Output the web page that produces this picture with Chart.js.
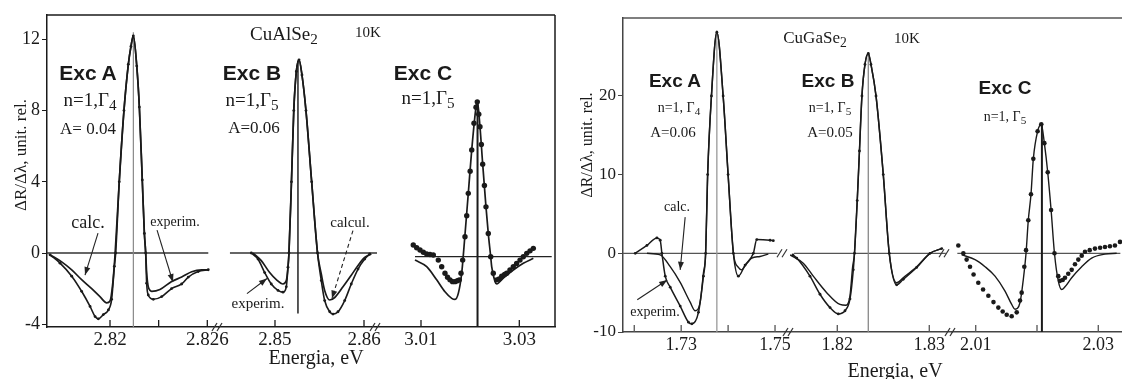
<!DOCTYPE html>
<html>
<head>
<meta charset="utf-8">
<script src="https://cdn.jsdelivr.net/npm/chart.js@4.4.0/dist/chart.umd.min.js"></script>
<style>
html, body { margin: 0; padding: 0; background: #fff; }
#stage { position: relative; width: 1122px; height: 379px; overflow: hidden; font-family: "Liberation Serif", "Times New Roman", serif; color: #1a1a1a; }
#stage canvas { position: absolute; top: 0; }
.t { position: absolute; transform: translate(-50%, -50%); white-space: nowrap; line-height: 1; }
.exc { font-family: "Liberation Sans", Arial, sans-serif; font-weight: bold; }
.yt { transform: translate(-50%, -50%) rotate(-90deg); }
sub { font-size: 0.8em; vertical-align: -0.3em; line-height: 0; }
</style>
</head>
<body>
<div id="stage">
  <!-- CuAlSe2 -->
  <div class="t" style="left:284px;top:33px;font-size:19px">CuAlSe<sub>2</sub></div>
  <div class="t" style="left:368px;top:32px;font-size:15px">10K</div>
  <div class="t exc" style="left:88px;top:72px;font-size:21px">Exc A</div>
  <div class="t" style="left:90px;top:99px;font-size:19px">n=1,Γ<sub>4</sub></div>
  <div class="t" style="left:88px;top:128px;font-size:17px">A= 0.04</div>
  <div class="t exc" style="left:252px;top:72px;font-size:21px">Exc B</div>
  <div class="t" style="left:252px;top:99px;font-size:19px">n=1,Γ<sub>5</sub></div>
  <div class="t" style="left:254px;top:127px;font-size:17px">A=0.06</div>
  <div class="t exc" style="left:423px;top:72px;font-size:21px">Exc C</div>
  <div class="t" style="left:428px;top:97px;font-size:19px">n=1,Γ<sub>5</sub></div>
  <div class="t" style="left:88px;top:222px;font-size:18px">calc.</div>
  <div class="t" style="left:175px;top:222px;font-size:14px">experim.</div>
  <div class="t" style="left:350px;top:222px;font-size:15px">calcul.</div>
  <div class="t" style="left:258px;top:303px;font-size:15px">experim.</div>
  <div class="t" style="left:316px;top:357px;font-size:20px">Energia, eV</div>
  <div class="t yt" style="left:20px;top:155px;font-size:17px">ΔR/Δλ, unit. rel.</div>
  <!-- CuGaSe2 -->
  <div class="t" style="left:815px;top:37px;font-size:17px">CuGaSe<sub>2</sub></div>
  <div class="t" style="left:907px;top:38px;font-size:15px">10K</div>
  <div class="t exc" style="left:675px;top:80px;font-size:19px">Exc A</div>
  <div class="t" style="left:679px;top:108px;font-size:14px">n=1, Γ<sub>4</sub></div>
  <div class="t" style="left:673px;top:132px;font-size:15px">A=0.06</div>
  <div class="t exc" style="left:828px;top:80px;font-size:19px">Exc B</div>
  <div class="t" style="left:830px;top:108px;font-size:14px">n=1, Γ<sub>5</sub></div>
  <div class="t" style="left:830px;top:132px;font-size:15px">A=0.05</div>
  <div class="t exc" style="left:1005px;top:87px;font-size:19px">Exc C</div>
  <div class="t" style="left:1005px;top:117px;font-size:14px">n=1, Γ<sub>5</sub></div>
  <div class="t" style="left:677px;top:207px;font-size:14px">calc.</div>
  <div class="t" style="left:655px;top:312px;font-size:14px">experim.</div>
  <div class="t" style="left:895px;top:370px;font-size:20px">Energia, eV</div>
  <div class="t yt" style="left:587px;top:145px;font-size:16px">ΔR/Δλ, unit. rel.</div>
</div>
<script>
// ---- CuAlSe2, exciton A (energy eV / dR/dl) ----
const alA_calcE = [2.81630, 2.81702, 2.81764, 2.81825, 2.81887, 2.81938, 2.81980, 2.82000, 2.82017, 2.82031, 2.82057, 2.82086, 2.82113, 2.82129, 2.82144, 2.82165, 2.82181, 2.82199, 2.82212, 2.82220, 2.82226, 2.82236, 2.82257, 2.82308, 2.82380, 2.82442, 2.82504, 2.82565, 2.82606];
const alA_calcR = [-0.1, -0.5, -0.95, -1.5, -2.0, -2.45, -2.8, -2.7, -1.7, -0.1, 4.0, 8.0, 10.6, 11.6, 12.2, 10.5, 8.2, 4.1, 1.1, 0, -1.1, -1.9, -2.15, -2.05, -1.6, -1.35, -1.05, -0.95, -0.95];
const alA_expE = [2.81630, 2.81692, 2.81764, 2.81825, 2.81877, 2.81908, 2.81928, 2.81959, 2.81990, 2.82010, 2.82027, 2.82035, 2.82057, 2.82086, 2.82113, 2.82129, 2.82144, 2.82165, 2.82181, 2.82199, 2.82212, 2.82220, 2.82226, 2.82236, 2.82267, 2.82319, 2.82380, 2.82442, 2.82483, 2.82544, 2.82606];
const alA_expR = [-0.1, -0.57, -1.3, -2.15, -3.0, -3.57, -3.7, -3.46, -3.2, -2.6, -0.75, 0, 4.0, 8.0, 10.6, 11.6, 12.2, 10.5, 8.2, 4.1, 1.1, 0, -1.7, -2.36, -2.6, -2.45, -2.0, -1.74, -1.35, -1.04, -0.94];
const alA_ticks = [2.82, 2.823, 2.826];
const alA_tickText = ['2.82', '', '2.826'];

// ---- CuAlSe2, exciton B ----
const alB_calcE = [2.84753, 2.84846, 2.84940, 2.85015, 2.85090, 2.85127, 2.85146, 2.85157, 2.85185, 2.85211, 2.85240, 2.85270, 2.85303, 2.85348, 2.85412, 2.85478, 2.85520, 2.85558, 2.85615, 2.85671, 2.85764, 2.85857, 2.85933, 2.86008, 2.86082];
const alB_calcR = [0, -0.43, -1.1, -1.5, -1.74, -1.55, -0.8, 0, 4.0, 8.0, 10.2, 10.85, 10.0, 8.0, 4.0, 0, -1.18, -2.1, -2.64, -2.5, -1.9, -1.25, -0.7, -0.25, -0.05];
const alB_expE = [2.84734, 2.84809, 2.84884, 2.84958, 2.85034, 2.85090, 2.85127, 2.85146, 2.85157, 2.85185, 2.85211, 2.85240, 2.85270, 2.85303, 2.85348, 2.85412, 2.85478, 2.85520, 2.85558, 2.85615, 2.85652, 2.85708, 2.85783, 2.85857, 2.85933, 2.86008, 2.86064];
const alB_expR = [0, -0.34, -1.1, -1.74, -2.1, -2.2, -1.9, -0.8, 0, 4.0, 8.0, 10.2, 10.85, 10.0, 8.0, 4.0, 0, -1.55, -2.67, -3.3, -3.43, -3.3, -2.67, -1.74, -0.9, -0.34, -0.05];
const alB_ticks = [2.85, 2.86];
const alB_tickText = ['2.85', '2.86'];

// ---- CuAlSe2, exciton C ----
const alC_calcE = [3.00878, 3.01116, 3.01319, 3.01488, 3.01625, 3.01692, 3.01759, 3.01828, 3.01875, 3.01962, 3.02032, 3.02119, 3.02145, 3.02200, 3.02255, 3.02322, 3.02369, 3.02418, 3.02438, 3.02506, 3.02540, 3.02674, 3.02878, 3.03081, 3.03285];
const alC_calcR = [-0.19, -0.56, -1.3, -1.97, -2.34, -2.4, -2.06, -0.93, 0.56, 3.56, 6.0, 8.4, 8.75, 7.3, 5.2, 2.8, 1.3, 0, -0.56, -1.4, -1.53, -1.2, -0.75, -0.37, -0.09];
const alC_expE = [3.00843, 3.00912, 3.00980, 3.01048, 3.01116, 3.01183, 3.01250, 3.01352, 3.01421, 3.01488, 3.01540, 3.01590, 3.01642, 3.01692, 3.01740, 3.01779, 3.01814, 3.01848, 3.01895, 3.01930, 3.01962, 3.02000, 3.02032, 3.02078, 3.02119, 3.02145, 3.02175, 3.02200, 3.02228, 3.02255, 3.02290, 3.02322, 3.02369, 3.02418, 3.02471, 3.02540, 3.02590, 3.02642, 3.02700, 3.02744, 3.02810, 3.02878, 3.02945, 3.03014, 3.03081, 3.03151, 3.03218, 3.03285];
const alC_expR = [0.66, 0.5, 0.38, 0.25, 0.15, 0.12, 0.1, -0.19, -0.56, -0.93, -1.15, -1.3, -1.4, -1.4, -1.35, -1.3, -0.93, -0.19, 1.12, 2.3, 3.56, 4.8, 6.0, 7.5, 8.4, 8.7, 8.0, 7.3, 6.3, 5.2, 4.0, 2.8, 1.3, 0, -0.93, -1.3, -1.25, -1.1, -1.0, -0.93, -0.75, -0.56, -0.38, -0.19, 0.0, 0.19, 0.33, 0.47];
const alC_ticks = [3.01, 3.03];
const alC_tickText = ['3.01', '3.03'];

const al_yTicks = [-4, 0, 4, 8, 12];

// ---- CuGaSe2, exciton A ----
const gaA_calcE = [1.72270, 1.72553, 1.72766, 1.72979, 1.73191, 1.73298, 1.73404, 1.73474, 1.73521, 1.73564, 1.73645, 1.73760, 1.73894, 1.74000, 1.74113, 1.74219, 1.74291, 1.74362, 1.74504, 1.74681, 1.74857];
const gaA_calcR = [0, -0.2, -1.7, -3.7, -6.2, -7.3, -6.2, -2.5, 0, 10, 20, 28.1, 20, 10, 0, -1.8, -2.1, -1.6, -0.6, -0.4, -0.1];
const gaA_expE = [1.72021, 1.72270, 1.72483, 1.72553, 1.72589, 1.72660, 1.72766, 1.72979, 1.73155, 1.73228, 1.73368, 1.73474, 1.73521, 1.73564, 1.73645, 1.73760, 1.73894, 1.74000, 1.74113, 1.74219, 1.74362, 1.74538, 1.74611, 1.74894, 1.74964];
const gaA_expR = [0, 1.0, 1.95, 1.66, 0, -2.9, -4.3, -6.7, -8.75, -8.96, -7.5, -2.9, 0, 10, 20, 28.1, 20, 10, 0, -2.9, -1.5, 0, 1.75, 1.66, 1.6];
const gaA_ticks = [1.72, 1.73, 1.74, 1.75];
const gaA_tickText = ['', '1.73', '', '1.75'];

// ---- CuGaSe2, exciton B ----
const gaB_calcE = [1.81486, 1.81630, 1.81739, 1.81885, 1.82029, 1.82095, 1.82138, 1.82167, 1.82187, 1.82217, 1.82241, 1.82268, 1.82301, 1.82337, 1.82366, 1.82421, 1.82500, 1.82565, 1.82646, 1.82717, 1.82863, 1.83008, 1.83135];
const gaB_calcR = [-0.2, -1.25, -2.9, -5.0, -6.5, -6.6, -5.4, -1.7, 0, 6.7, 13, 20, 24, 25.4, 24, 20, 10, 0, -3.75, -3.1, -1.7, 0, 0.6];
const gaB_expE = [1.81518, 1.81559, 1.81703, 1.81812, 1.81921, 1.82011, 1.82084, 1.82138, 1.82174, 1.82187, 1.82217, 1.82241, 1.82268, 1.82301, 1.82337, 1.82366, 1.82421, 1.82500, 1.82565, 1.82646, 1.82717, 1.82863, 1.83008, 1.83135];
const gaB_expR = [-0.2, -0.6, -2.9, -5.2, -6.9, -7.7, -7.3, -5.8, -2.1, 0, 6.7, 13, 20, 24, 25.4, 24, 20, 10, 0, -4.0, -3.3, -1.8, 0, 0.6];
const gaB_ticks = [1.82, 1.83];
const gaB_tickText = ['1.82', '1.83'];

// ---- CuGaSe2, exciton C ----
const gaC_calcE = [2.00772, 2.00989, 2.01152, 2.01315, 2.01478, 2.01587, 2.01641, 2.01723, 2.01777, 2.01821, 2.01858, 2.01902, 2.01940, 2.02010, 2.02070, 2.02120, 2.02175, 2.02230, 2.02285, 2.02347, 2.02403, 2.02457, 2.02566, 2.02729, 2.02892, 2.03109, 2.03300];
const gaC_calcR = [-0.2, -0.8, -1.7, -2.9, -4.8, -6.5, -7.1, -6.25, -3.3, 0, 4.2, 7.5, 12.0, 15.5, 16.4, 14.0, 10.3, 5.5, 0, -3.5, -4.6, -4.25, -3.1, -1.7, -0.6, -0.1, 0];
const gaC_expE = [2.00716, 2.00798, 2.00852, 2.00907, 2.00965, 2.01042, 2.01120, 2.01206, 2.01290, 2.01369, 2.01440, 2.01506, 2.01587, 2.01669, 2.01723, 2.01750, 2.01793, 2.01821, 2.01858, 2.01902, 2.01940, 2.02010, 2.02070, 2.02120, 2.02175, 2.02230, 2.02285, 2.02347, 2.02375, 2.02420, 2.02457, 2.02510, 2.02566, 2.02620, 2.02674, 2.02730, 2.02783, 2.02860, 2.02946, 2.03030, 2.03109, 2.03190, 2.03272, 2.03354];
const gaC_expR = [1.0, 0, -0.8, -1.7, -2.7, -3.75, -4.6, -5.4, -6.2, -6.9, -7.4, -7.8, -8.0, -7.5, -6.0, -5.0, -1.7, 0.4, 4.2, 7.5, 12.0, 15.5, 16.4, 14.0, 10.3, 5.5, 0, -2.9, -3.5, -3.4, -3.1, -2.6, -2.1, -1.4, -0.8, -0.3, 0.2, 0.4, 0.6, 0.7, 0.8, 0.9, 1.0, 1.45];
const gaC_ticks = [2.01, 2.02, 2.03];
const gaC_tickText = ['2.01', '', '2.03'];

const ga_yTicks = [-10, 0, 10, 20];

// ------------------------------------------------------------
const H = 379, W = 1122;
const INK = '#1a1a1a';
const pts = (xs, ys) => xs.map((x, i) => ({ x: x, y: ys[i] }));

function seg(ctx, x0, y0, x1, y1, color, w, dash) {
    ctx.beginPath();
    ctx.strokeStyle = color;
    ctx.lineWidth = w;
    ctx.setLineDash(dash || []);
    ctx.moveTo(x0, y0);
    ctx.lineTo(x1, y1);
    ctx.stroke();
    ctx.setLineDash([]);
}

function slashes(ctx, x, y) {
    seg(ctx, x - 7, y + 4, x - 2, y - 4, '#333', 1.2);
    seg(ctx, x - 2, y + 4, x + 3, y - 4, '#333', 1.2);
}

function arrow(ctx, x0, y0, x1, y1, dash) {
    seg(ctx, x0, y0, x1, y1, '#222', 1.1, dash);
    let ang = Math.atan2(y1 - y0, x1 - x0), L = 8, h = 3;
    ctx.beginPath();
    ctx.fillStyle = '#222';
    ctx.moveTo(x1, y1);
    ctx.lineTo(x1 - L * Math.cos(ang) + h * Math.sin(ang), y1 - L * Math.sin(ang) - h * Math.cos(ang));
    ctx.lineTo(x1 - L * Math.cos(ang) - h * Math.sin(ang), y1 - L * Math.sin(ang) + h * Math.cos(ang));
    ctx.closePath();
    ctx.fill();
}

// frame, zero line, peak marker, inward ticks, axis breaks and arrows
function makeDecor(d) {
    return {
        id: 'decor',
        beforeDatasetsDraw(chart) {
            let ctx = chart.ctx, a = chart.chartArea, x = chart.scales.x, y = chart.scales.y;
            ctx.save();
            if (d.top) seg(ctx, a.left, a.top, a.right, a.top, d.frame, 1.5);
            if (d.right) seg(ctx, a.right, a.top, a.right, a.bottom, d.frame, 1.5);
            let y0 = y.getPixelForValue(0);
            seg(ctx, x.getPixelForValue(d.zero[0]), y0, x.getPixelForValue(d.zero[1]), y0, d.zeroColor, 1.3);
            let v = d.vline;
            let vx = x.getPixelForValue(v.x);
            seg(ctx, vx, y.getPixelForValue(v.from), vx, y.getPixelForValue(v.to), v.color, v.w);
            ctx.restore();
        },
        afterDraw(chart) {
            let ctx = chart.ctx, a = chart.chartArea, x = chart.scales.x, y = chart.scales.y;
            ctx.save();
            for (let t of x.ticks) {
                let px = x.getPixelForValue(t.value);
                seg(ctx, px, a.bottom, px, a.bottom - 7, d.frame, 1.3);
            }
            if (d.brk) {
                slashes(ctx, a.right, a.bottom);
                if (d.brkZero) slashes(ctx, a.right - 6, y.getPixelForValue(0));
            }
            for (let ar of (d.arrows || [])) {
                arrow(ctx, x.getPixelForValue(ar.from[0]), y.getPixelForValue(ar.from[1]),
                      x.getPixelForValue(ar.to[0]), y.getPixelForValue(ar.to[1]), ar.dash);
            }
            ctx.restore();
        }
    };
}

function lineSet(data, w) {
    return { data: data, borderColor: INK, borderWidth: w || 1.7, pointRadius: 0, cubicInterpolationMode: 'monotone', fill: false };
}
function dotLineSet(data, w) {
    return { data: data, borderColor: INK, borderWidth: w || 1.6, pointRadius: 1.4, pointBorderWidth: 0, pointBackgroundColor: INK, cubicInterpolationMode: 'monotone', fill: false };
}
function dotSet(data, r) {
    return { data: data, showLine: false, pointRadius: r, pointBorderWidth: 0, pointBackgroundColor: INK, borderColor: INK };
}

function makePanel(p) {
    let yAxis = p.yWidth > 0;
    let cl = yAxis ? p.area.l - p.yWidth : p.area.l - 8;
    let cr = Math.min(W, p.area.r + 16);
    let canvas = document.createElement('canvas');
    canvas.width = cr - cl;
    canvas.height = H;
    canvas.style.left = cl + 'px';
    let stage = document.getElementById('stage');
    stage.insertBefore(canvas, stage.firstChild);

    return new Chart(canvas, {
        type: 'line',
        data: { datasets: p.datasets },
        options: {
            responsive: false,
            animation: false,
            devicePixelRatio: 1,
            layout: { autoPadding: false, padding: { left: yAxis ? 0 : 8, right: cr - p.area.r, top: p.area.t, bottom: 0 } },
            plugins: { legend: { display: false }, tooltip: { enabled: false } },
            scales: {
                x: {
                    type: 'linear', min: p.xMin, max: p.xMax,
                    afterBuildTicks: s => { s.ticks = p.xTicks.map(v => ({ value: v })); },
                    afterFit: s => { s.height = H - p.area.b; s.paddingLeft = 0; s.paddingRight = 0; },
                    grid: { display: true, drawOnChartArea: false, drawTicks: false },
                    border: { display: true, color: p.frame, width: 1.5 },
                    ticks: { autoSkip: false, maxRotation: 0, padding: 2, color: INK,
                             font: { family: 'Liberation Serif', size: p.xFont },
                             callback: (v, i) => p.xText[i] }
                },
                y: {
                    display: yAxis, min: p.yMin, max: p.yMax,
                    afterBuildTicks: s => { s.ticks = p.yTicks.map(v => ({ value: v })); },
                    afterFit: s => { s.width = p.yWidth; s.paddingTop = 0; s.paddingBottom = 0; },
                    grid: { display: true, drawOnChartArea: false, drawTicks: true, tickLength: 5, color: p.frame },
                    border: { display: true, color: p.frame, width: 1.5 },
                    ticks: { padding: 2, color: INK, font: { family: 'Liberation Serif', size: p.yFont } }
                }
            }
        },
        plugins: [makeDecor(p.decor)]
    });
}

// CuAlSe2 panel
const alY = { yMin: -4.157, yMax: 13.371, yTicks: al_yTicks, xFont: 19, yFont: 18, frame: '#1a1a1a' };

makePanel(Object.assign({}, alY, {
    area: { l: 47, r: 219, t: 15, b: 327 }, yWidth: 47,
    xMin: 2.816115, xMax: 2.826721, xTicks: alA_ticks, xText: alA_tickText,
    datasets: [lineSet(pts(alA_calcE, alA_calcR)), dotLineSet(pts(alA_expE, alA_expR))],
    decor: { top: true, frame: '#1a1a1a', zeroColor: '#333', zero: [2.8161, 2.82606],
             vline: { x: 2.82144, from: -4.157, to: 12.4, color: '#888', w: 1.2 }, brk: true,
             arrows: [{ from: [2.81926, 1.12], to: [2.81846, -1.24] }, { from: [2.82290, 1.29], to: [2.82388, -1.63] }] }
}));

makePanel(Object.assign({}, alY, {
    area: { l: 219, r: 377, t: 15, b: 327 }, yWidth: 0,
    xMin: 2.84371, xMax: 2.86146, xTicks: alB_ticks, xText: alB_tickText,
    datasets: [lineSet(pts(alB_calcE, alB_calcR)), dotLineSet(pts(alB_expE, alB_expR))],
    decor: { top: true, frame: '#1a1a1a', zeroColor: '#333', zero: [2.84494, 2.86146],
             vline: { x: 2.85258, from: -3.4, to: 10.8, color: '#222', w: 1.5 }, brk: true,
             arrows: [{ from: [2.85876, 1.26], to: [2.85640, -2.56], dash: [4, 3] }, { from: [2.84685, -2.28], to: [2.84910, -1.43] }] }
}));

makePanel(Object.assign({}, alY, {
    yMin: -3.949, yMax: 13.579,
    area: { l: 377, r: 555, t: 15, b: 327 }, yWidth: 0,
    xMin: 3.00105, xMax: 3.03726, xTicks: alC_ticks, xText: alC_tickText,
    datasets: [lineSet(pts(alC_calcE, alC_calcR)), dotSet(pts(alC_expE, alC_expR), 2.7)],
    decor: { top: true, right: true, frame: '#1a1a1a', zeroColor: '#222', zero: [3.00878, 3.03659],
             vline: { x: 3.0215, from: -3.949, to: 8.8, color: '#1a1a1a', w: 2 } }
}));

// CuGaSe2 panel
const gaY = { yMin: -10, yMax: 29.9, yTicks: ga_yTicks, xFont: 18, yFont: 17, frame: '#444' };

makePanel(Object.assign({}, gaY, {
    area: { l: 623, r: 790, t: 18, b: 332 }, yWidth: 63,
    xMin: 1.71760, xMax: 1.75319, xTicks: gaA_ticks, xText: gaA_tickText,
    datasets: [lineSet(pts(gaA_calcE, gaA_calcR), 1.4), dotLineSet(pts(gaA_expE, gaA_expR), 1.5)],
    decor: { top: true, frame: '#555', zeroColor: '#555', zero: [1.7176, 1.7505],
             vline: { x: 1.73760, from: -10, to: 28.3, color: '#999', w: 1.3 }, brk: true, brkZero: true,
             arrows: [{ from: [1.73085, 4.6], to: [1.72979, -2.1] }, { from: [1.72064, -5.9], to: [1.72702, -3.4] }] }
}));

makePanel(Object.assign({}, gaY, {
    area: { l: 790, r: 952, t: 18, b: 332 }, yWidth: 0,
    xMin: 1.81486, xMax: 1.83247, xTicks: gaB_ticks, xText: gaB_tickText,
    datasets: [lineSet(pts(gaB_calcE, gaB_calcR), 1.4), dotLineSet(pts(gaB_expE, gaB_expR), 1.5)],
    decor: { top: true, frame: '#555', zeroColor: '#555', zero: [1.8153, 1.8318],
             vline: { x: 1.82337, from: -10, to: 25.5, color: '#888', w: 1.3 }, brk: true, brkZero: true }
}));

makePanel(Object.assign({}, gaY, {
    area: { l: 952, r: 1122, t: 18, b: 332 }, yWidth: 0,
    xMin: 2.00613, xMax: 2.03387, xTicks: gaC_ticks, xText: gaC_tickText,
    datasets: [lineSet(pts(gaC_calcE, gaC_calcR), 1.4), dotSet(pts(gaC_expE, gaC_expR), 2.3)],
    decor: { top: true, frame: '#555', zeroColor: '#555', zero: [2.0070, 2.0336],
             vline: { x: 2.0208, from: -10, to: 16.2, color: '#1a1a1a', w: 2 } }
}));
</script>
</body>
</html>
